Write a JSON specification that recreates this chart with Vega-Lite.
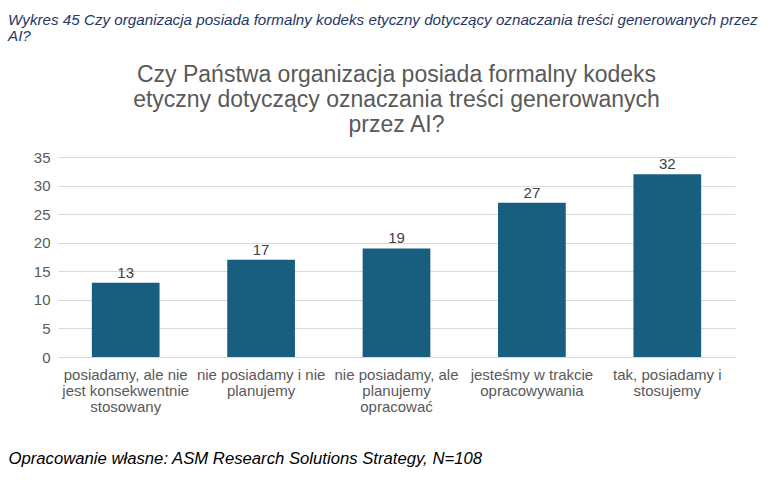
{
  "$schema": "https://vega.github.io/schema/vega-lite/v6.json",
  "background": "#ffffff",
  "padding": {"left": 8, "top": 12, "right": 5, "bottom": 5},
  "title": {
    "text": ["Wykres 45 Czy organizacja posiada  formalny kodeks etyczny dotyczący oznaczania treści generowanych przez", "AI?"],
    "anchor": "start",
    "frame": "bounds",
    "font": "Liberation Sans",
    "fontStyle": "italic",
    "fontWeight": "normal",
    "fontSize": 15.2,
    "lineHeight": 16,
    "color": "#1f3864",
    "offset": 20
  },
  "vconcat": [
    {
      "width": 677,
      "height": 200,
      "title": {
        "text": ["Czy Państwa organizacja posiada formalny kodeks", "etyczny dotyczący oznaczania treści generowanych", "przez AI?"],
        "anchor": "middle",
        "font": "Liberation Sans",
        "fontWeight": "normal",
        "fontSize": 23,
        "lineHeight": 25,
        "color": "#595959",
        "offset": 13
      },
      "data": {
        "values": [
          {"odpowiedz": "posiadamy, ale nie\njest konsekwentnie\nstosowany", "liczba": 13},
          {"odpowiedz": "nie posiadamy i nie\nplanujemy", "liczba": 17},
          {"odpowiedz": "nie posiadamy, ale\nplanujemy\nopracować", "liczba": 19},
          {"odpowiedz": "jesteśmy w trakcie\nopracowywania", "liczba": 27},
          {"odpowiedz": "tak, posiadamy i\nstosujemy", "liczba": 32}
        ]
      },
      "encoding": {
        "x": {
          "field": "odpowiedz",
          "type": "nominal",
          "sort": null,
          "scale": {"paddingInner": 0.5, "paddingOuter": 0.25},
          "axis": {
            "labelAngle": 0,
            "labelExpr": "split(datum.label, '\\n')",
            "labelLineHeight": 16,
            "labelFontSize": 15,
            "labelColor": "#595959",
            "labelPadding": 10,
            "labelLimit": 200,
            "ticks": false,
            "domainColor": "#d9d9d9",
            "title": "Opracowanie własne: ASM Research Solutions Strategy, N=108",
            "titleAnchor": "start",
            "titleAlign": "left",
            "titleBaseline": "middle",
            "titleX": -50,
            "titleY": 101,
            "titleFontSize": 16.7,
            "titleFontStyle": "italic",
            "titleFontWeight": "normal",
            "titleColor": "#000000"
          }
        },
        "y": {
          "field": "liczba",
          "type": "quantitative",
          "scale": {"domain": [0, 35]},
          "axis": {
            "values": [0, 5, 10, 15, 20, 25, 30, 35],
            "title": null,
            "domain": false,
            "ticks": false,
            "labelPadding": 8,
            "labelFontSize": 15,
            "labelColor": "#595959",
            "gridColor": "#d9d9d9",
            "minExtent": 50
          }
        }
      },
      "layer": [
        {"mark": {"type": "bar", "color": "#175e7f"}},
        {
          "mark": {"type": "text", "baseline": "bottom", "dy": -2, "fontSize": 15, "color": "#404040"},
          "encoding": {"text": {"field": "liczba", "type": "quantitative"}}
        }
      ]
    }
  ],
  "config": {
    "font": "Liberation Sans",
    "view": {"stroke": null}
  }
}
